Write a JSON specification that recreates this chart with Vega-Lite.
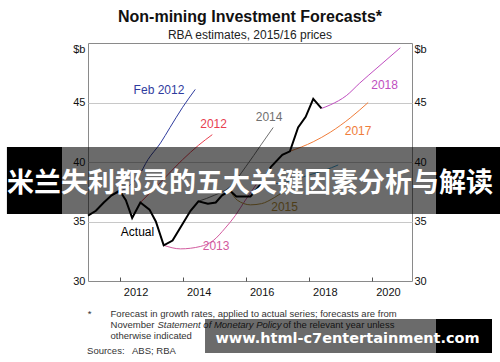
{
  "$schema": "https://vega.github.io/schema/vega-lite/v6.json",
  "width": 324,
  "height": 238,
  "autosize": "none",
  "padding": {"left": 88, "top": 43, "right": 88, "bottom": 81},
  "background": "white",
  "config": {
    "view": {"stroke": "#8a8a8a", "strokeWidth": 1},
    "font": "Liberation Sans",
    "axis": {"labelFont": "Liberation Sans", "labelFontSize": 11, "labelColor": "#111111", "title": null}
  },
  "title": {
    "text": "Non-mining Investment Forecasts*",
    "subtitle": "RBA estimates, 2015/16 prices",
    "font": "Liberation Sans",
    "subtitleFont": "Liberation Sans",
    "fontSize": 16,
    "fontWeight": "bold",
    "color": "#111111",
    "subtitleFontSize": 12,
    "subtitleColor": "#222222",
    "anchor": "middle",
    "offset": 2,
    "subtitlePadding": 5
  },
  "datasets": {
    "forecasts": [
      {"series": "Feb 2012", "year": 2011.75, "value": 37.2},
      {"series": "Feb 2012", "year": 2012.25, "value": 37.9},
      {"series": "Feb 2012", "year": 2012.6, "value": 38.8},
      {"series": "Feb 2012", "year": 2012.9, "value": 40.2},
      {"series": "Feb 2012", "year": 2013.3, "value": 41.6},
      {"series": "Feb 2012", "year": 2013.6, "value": 42.9},
      {"series": "Feb 2012", "year": 2014.0, "value": 44.6},
      {"series": "Feb 2012", "year": 2014.4, "value": 46.1},
      {"series": "2012", "year": 2012.66, "value": 36.6},
      {"series": "2012", "year": 2013.3, "value": 38.3},
      {"series": "2012", "year": 2014.0, "value": 40.2},
      {"series": "2012", "year": 2014.5, "value": 41.4},
      {"series": "2012", "year": 2014.94, "value": 42.3},
      {"series": "2013", "year": 2013.4, "value": 33.0},
      {"series": "2013", "year": 2013.93, "value": 32.7},
      {"series": "2013", "year": 2014.56, "value": 32.9},
      {"series": "2013", "year": 2014.97, "value": 33.4},
      {"series": "2013", "year": 2015.35, "value": 34.45},
      {"series": "2013", "year": 2015.67, "value": 35.5},
      {"series": "2013", "year": 2015.99, "value": 36.8},
      {"series": "2013", "year": 2016.15, "value": 37.4},
      {"series": "2013", "year": 2016.4, "value": 38.4},
      {"series": "2014", "year": 2014.5, "value": 36.7},
      {"series": "2014", "year": 2015.0, "value": 37.2},
      {"series": "2014", "year": 2015.5, "value": 37.9},
      {"series": "2014", "year": 2016.0, "value": 39.6},
      {"series": "2014", "year": 2016.5, "value": 41.5},
      {"series": "2014", "year": 2016.87, "value": 42.9},
      {"series": "2015", "year": 2015.5, "value": 37.6},
      {"series": "2015", "year": 2015.73, "value": 36.8},
      {"series": "2015", "year": 2016.15, "value": 36.4},
      {"series": "2015", "year": 2016.5, "value": 36.5},
      {"series": "2015", "year": 2016.9, "value": 37.0},
      {"series": "2015", "year": 2017.3, "value": 37.7},
      {"series": "2016", "year": 2016.5, "value": 38.2},
      {"series": "2016", "year": 2017.0, "value": 38.2},
      {"series": "2016", "year": 2017.5, "value": 38.5},
      {"series": "2016", "year": 2018.0, "value": 38.9},
      {"series": "2016", "year": 2018.5, "value": 39.3},
      {"series": "2016", "year": 2018.93, "value": 39.75},
      {"series": "2017", "year": 2017.4, "value": 40.9},
      {"series": "2017", "year": 2018.14, "value": 41.7},
      {"series": "2017", "year": 2018.68, "value": 42.5},
      {"series": "2017", "year": 2019.31, "value": 43.7},
      {"series": "2017", "year": 2019.88, "value": 45.0},
      {"series": "2018", "year": 2018.4, "value": 44.5},
      {"series": "2018", "year": 2018.68, "value": 44.8},
      {"series": "2018", "year": 2019.2, "value": 45.6},
      {"series": "2018", "year": 2019.6, "value": 46.6},
      {"series": "2018", "year": 2020.16, "value": 47.9},
      {"series": "2018", "year": 2020.9, "value": 49.6}
    ],
    "actual": [
      {"year": 2011.0, "value": 35.5},
      {"year": 2011.25, "value": 35.9},
      {"year": 2011.5, "value": 36.6},
      {"year": 2011.75, "value": 37.2},
      {"year": 2012.0, "value": 37.6},
      {"year": 2012.2, "value": 36.8},
      {"year": 2012.4, "value": 35.3},
      {"year": 2012.66, "value": 36.6},
      {"year": 2012.95, "value": 36.0},
      {"year": 2013.15, "value": 35.0},
      {"year": 2013.4, "value": 33.0},
      {"year": 2013.68, "value": 33.4},
      {"year": 2013.93, "value": 34.5},
      {"year": 2014.25, "value": 35.9},
      {"year": 2014.5, "value": 36.7},
      {"year": 2014.8, "value": 36.5},
      {"year": 2015.05, "value": 36.6},
      {"year": 2015.25, "value": 37.2},
      {"year": 2015.5, "value": 37.6},
      {"year": 2015.7, "value": 37.1},
      {"year": 2016.15, "value": 37.1},
      {"year": 2016.5, "value": 38.2},
      {"year": 2016.8, "value": 39.6},
      {"year": 2017.16, "value": 40.6},
      {"year": 2017.4, "value": 40.9},
      {"year": 2017.66, "value": 42.9},
      {"year": 2017.9, "value": 43.8},
      {"year": 2018.14, "value": 45.3},
      {"year": 2018.4, "value": 44.5}
    ],
    "labels": [
      {"series": "Feb 2012", "year": 2013.25, "value": 46.09},
      {"series": "2012", "year": 2014.98, "value": 43.2},
      {"series": "2013", "year": 2015.06, "value": 32.94},
      {"series": "2014", "year": 2016.74, "value": 43.74},
      {"series": "2015", "year": 2017.23, "value": 36.26},
      {"series": "2017", "year": 2019.56, "value": 42.6},
      {"series": "2018", "year": 2020.4, "value": 46.5},
      {"series": "Actual", "year": 2012.57, "value": 34.08}
    ],
    "notes": [
      {"t": "*", "year": 2010.99, "value": 26.975},
      {"t": "Forecast in growth rates, applied to actual series; forecasts are from", "year": 2011.715, "value": 26.975},
      {"t": "November", "year": 2011.715, "value": 26.05},
      {"t": "of the relevant year unless", "year": 2017.18, "value": 26.05},
      {"t": "otherwise indicated", "year": 2011.715, "value": 25.126},
      {"t": "Sources:", "year": 2010.97, "value": 23.866},
      {"t": "ABS; RBA", "year": 2012.395, "value": 23.866}
    ],
    "notesItalic": [
      {"t": "Statement of Monetary Policy", "year": 2013.2, "value": 26.05}
    ],
    "grayBoxes": [
      {"x1": 2010.176, "x2": 2022.03, "y1": 41.26, "y2": 35.63},
      {"x1": 2014.709, "x2": 2022.03, "y1": 26.807, "y2": 23.95}
    ],
    "blackBoxes": [
      {"x1": 2008.43, "x2": 2010.176, "y1": 41.26, "y2": 35.63},
      {"x1": 2022.03, "x2": 2024.3, "y1": 41.26, "y2": 35.63},
      {"x1": 2022.03, "x2": 2023.806, "y1": 26.807, "y2": 23.95}
    ],
    "banner": [
      {"t": "米兰失利都灵的五大关键因素分析与解读", "year": 2016.135, "value": 38.11}
    ],
    "url": [
      {"t": "www.html-c7entertainment.com", "year": 2019.226, "value": 24.79}
    ]
  },
  "layer": [
    {
      "data": {"name": "forecasts"},
      "mark": {"type": "line", "strokeWidth": 1, "interpolate": "monotone"},
      "encoding": {
        "x": {"field": "year", "type": "quantitative",
          "scale": {"domain": [2011, 2021.27], "nice": false, "zero": false},
          "axis": {"values": [2012, 2013, 2014, 2015, 2016, 2017, 2018, 2019, 2020, 2021],
            "labelExpr": "datum.value % 2 == 0 ? datum.value : ''",
            "labelOffset": 16, "tickSize": -4, "tickColor": "#555555", "domain": false, "grid": false, "labelPadding": 9}},
        "y": {"field": "value", "type": "quantitative",
          "scale": {"domain": [30, 50], "nice": false, "zero": false},
          "axis": {"orient": "left", "values": [30, 35, 40, 45, 50],
            "labelExpr": "datum.value == 50 ? '$b' : datum.value",
            "labelBaseline": {"condition": {"test": "datum.value == 50", "value": "top"}, "value": "middle"},
            "ticks": false, "domain": false, "grid": true,
            "gridColor": {"condition": {"test": "datum.value == 30 || datum.value == 50", "value": "transparent"}, "value": "#c8c8c8"},
            "labelPadding": 3}},
        "color": {"field": "series", "type": "nominal",
          "scale": {"domain": ["Feb 2012", "2012", "2013", "2014", "2015", "2016", "2017", "2018", "Actual"],
            "range": ["#2f3c9e", "#e8404f", "#d25a9e", "#707070", "#b8923c", "#3a9fd0", "#f07d3a", "#c04ec0", "#000000"]},
          "legend": null},
        "detail": {"field": "series"}
      }
    },
    {
      "data": {"name": "actual"},
      "mark": {"type": "line", "strokeWidth": 2, "color": "#000000"},
      "encoding": {
        "x": {"field": "year", "type": "quantitative", "scale": {"domain": [2011, 2021.27], "nice": false, "zero": false}},
        "y": {"field": "value", "type": "quantitative",
          "scale": {"domain": [30, 50], "nice": false, "zero": false},
          "axis": {"orient": "right", "values": [30, 35, 40, 45, 50],
            "labelExpr": "datum.value == 50 ? '$b' : datum.value",
            "labelBaseline": {"condition": {"test": "datum.value == 50", "value": "top"}, "value": "middle"},
            "ticks": false, "domain": false, "grid": false, "labelPadding": 2}}
      }
    },
    {
      "data": {"name": "labels"},
      "mark": {"type": "text", "fontSize": 12, "font": "Liberation Sans", "align": "center", "baseline": "middle"},
      "encoding": {
        "x": {"field": "year", "type": "quantitative", "scale": {"domain": [2011, 2021.27], "nice": false, "zero": false}},
        "y": {"field": "value", "type": "quantitative", "scale": {"domain": [30, 50], "nice": false, "zero": false}, "axis": null},
        "text": {"field": "series"},
        "color": {"field": "series", "type": "nominal", "legend": null}
      }
    },
    {
      "data": {"name": "notes"},
      "mark": {"type": "text", "fontSize": 9.5, "font": "Liberation Sans", "align": "left", "baseline": "alphabetic", "color": "#333333"},
      "encoding": {
        "x": {"field": "year", "type": "quantitative", "scale": {"domain": [2011, 2021.27], "nice": false, "zero": false}},
        "y": {"field": "value", "type": "quantitative", "scale": {"domain": [30, 50], "nice": false, "zero": false}, "axis": null},
        "text": {"field": "t"}
      }
    },
    {
      "data": {"name": "notesItalic"},
      "mark": {"type": "text", "fontSize": 9.5, "font": "Liberation Sans", "fontStyle": "italic", "align": "left", "baseline": "alphabetic", "color": "#333333"},
      "encoding": {
        "x": {"field": "year", "type": "quantitative", "scale": {"domain": [2011, 2021.27], "nice": false, "zero": false}},
        "y": {"field": "value", "type": "quantitative", "scale": {"domain": [30, 50], "nice": false, "zero": false}, "axis": null},
        "text": {"field": "t"}
      }
    },
    {
      "data": {"name": "grayBoxes"},
      "mark": {"type": "rect", "color": "#000000", "opacity": 0.58},
      "encoding": {
        "x": {"field": "x1", "type": "quantitative", "scale": {"domain": [2011, 2021.27], "nice": false, "zero": false}},
        "x2": {"field": "x2"},
        "y": {"field": "y1", "type": "quantitative", "scale": {"domain": [30, 50], "nice": false, "zero": false}, "axis": null},
        "y2": {"field": "y2"}
      }
    },
    {
      "data": {"name": "blackBoxes"},
      "mark": {"type": "rect", "color": "#000000", "opacity": 1},
      "encoding": {
        "x": {"field": "x1", "type": "quantitative", "scale": {"domain": [2011, 2021.27], "nice": false, "zero": false}},
        "x2": {"field": "x2"},
        "y": {"field": "y1", "type": "quantitative", "scale": {"domain": [30, 50], "nice": false, "zero": false}, "axis": null},
        "y2": {"field": "y2"}
      }
    },
    {
      "data": {"name": "banner"},
      "mark": {"type": "text", "fontSize": 27, "font": "Noto Sans CJK SC", "fontWeight": "bold", "align": "center", "baseline": "middle", "color": "#ffffff"},
      "encoding": {
        "x": {"field": "year", "type": "quantitative", "scale": {"domain": [2011, 2021.27], "nice": false, "zero": false}},
        "y": {"field": "value", "type": "quantitative", "scale": {"domain": [30, 50], "nice": false, "zero": false}, "axis": null},
        "text": {"field": "t"}
      }
    },
    {
      "data": {"name": "url"},
      "mark": {"type": "text", "fontSize": 14.5, "font": "DejaVu Sans", "fontWeight": "bold", "align": "center", "baseline": "alphabetic", "color": "#ffffff"},
      "encoding": {
        "x": {"field": "year", "type": "quantitative", "scale": {"domain": [2011, 2021.27], "nice": false, "zero": false}},
        "y": {"field": "value", "type": "quantitative", "scale": {"domain": [30, 50], "nice": false, "zero": false}, "axis": null},
        "text": {"field": "t"}
      }
    }
  ],
  "resolve": {"axis": {"y": "independent"}}
}
